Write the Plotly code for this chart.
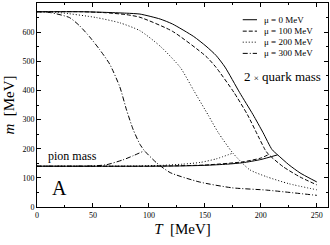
import plotly.graph_objects as go

# ---- data ----
T_q0 = [0, 40, 60, 80, 92, 110, 121, 140, 151, 160, 168, 181, 193, 202, 210, 215, 225, 235, 243, 250]
m_q0 = [670, 670, 668, 665, 662, 645, 628, 585, 552, 520, 480, 393, 317, 255, 197, 179, 145, 117, 100, 86]
T_p0 = [0, 100, 130, 150, 170, 184, 200, 215]
m_p0 = [140, 140, 141, 143, 147, 152, 163, 179]

T_q100 = [0, 40, 60, 80, 92, 121, 151, 160, 176, 188, 198, 204, 207, 220, 235, 250]
m_q100 = [670, 670, 667, 660, 651, 603, 517, 479, 393, 317, 240, 195, 180, 138, 103, 76]
T_p100 = [0, 100, 150, 184, 200, 207]
m_p100 = [140, 140, 144, 155, 168, 180]

T_q200 = [0, 20, 53, 74, 92, 110, 128, 140, 153, 162, 175, 190, 205, 225, 250]
m_q200 = [670, 667, 650, 632, 605, 552, 479, 400, 315, 255, 185, 128, 104, 80, 59]
T_p200 = [0, 90, 112, 130, 146, 160, 175]
m_p200 = [140, 141, 143, 147, 153, 165, 185]

T_q300 = [0, 12, 29, 38, 47, 56, 65, 74, 80, 86, 92, 96, 107, 119, 145, 174, 205, 250]
m_q300 = [670, 667, 650, 622, 584, 540, 490, 412, 333, 265, 215, 193, 151, 118, 86, 66, 58, 40]
T_p300 = [0, 50, 62, 77, 86, 96]
m_p300 = [140, 141, 145, 162, 176, 193]

series = [
    ("\u03bc = 0 MeV", T_q0, m_q0, T_p0, m_p0, "solid"),
    ("\u03bc = 100 MeV", T_q100, m_q100, T_p100, m_p100, "4px,2px"),
    ("\u03bc = 200 MeV", T_q200, m_q200, T_p200, m_p200, "1px,2px"),
    ("\u03bc = 300 MeV", T_q300, m_q300, T_p300, m_p300, "5px,2px,1px,2px"),
]

SERIF = "Liberation Serif, Times New Roman, serif"

fig = go.Figure()
for name, tq, mq, tp, mp, dash in series:
    for tx, my in ((tq, mq), (tp, mp)):
        fig.add_trace(go.Scatter(
            x=tx, y=my, mode="lines", name=name, showlegend=False,
            line=dict(color="black", width=1, dash=dash, shape="spline", smoothing=0.6),
            hoverinfo="skip"))

# manual legend (short samples like the original)
leg_y = [0.918, 0.862, 0.808, 0.753]
for (name, *_r, dash), yy in zip(series, leg_y):
    fig.add_shape(type="line", xref="paper", yref="paper", x0=0.707, x1=0.756, y0=yy, y1=yy,
                  line=dict(color="black", width=1, dash=dash))
    fig.add_annotation(xref="paper", yref="paper", x=0.772, y=yy, text=name, showarrow=False,
                       xanchor="left", yanchor="middle", font=dict(family=SERIF, size=9, color="black"))

fig.add_annotation(x=219, y=447, text="2 <span style='font-size:9px'>\u00d7</span> quark mass",
                   showarrow=False, font=dict(family=SERIF, size=13, color="black"))
fig.add_annotation(x=32, y=175, text="pion mass", showarrow=False,
                   font=dict(family=SERIF, size=12, color="black"))
fig.add_annotation(x=20, y=66, text="A", showarrow=False,
                   font=dict(family=SERIF, size=20, color="black"))

axis_common = dict(showgrid=False, zeroline=False, showline=True, linecolor="black", linewidth=1,
                   mirror="allticks", ticks="inside", ticklen=4, tickcolor="black", tickwidth=1,
                   tickfont=dict(family=SERIF, size=8, color="black"))

fig.update_xaxes(range=[0, 260], dtick=50, tick0=0,
                 minor=dict(dtick=25, ticks="inside", ticklen=2, tickcolor="black"),
                 title=dict(text="<i>T</i>  [MeV]", font=dict(family=SERIF, size=15, color="black"), standoff=4),
                 **axis_common)
fig.update_yaxes(range=[0, 700], dtick=100, tick0=0,
                 minor=dict(dtick=50, ticks="inside", ticklen=2, tickcolor="black"),
                 title=dict(text="<i>m</i>  [MeV]", font=dict(family=SERIF, size=15, color="black"), standoff=4),
                 **axis_common)

fig.update_layout(width=330, height=245, margin=dict(l=37, r=2, t=3, b=38),
                  plot_bgcolor="white", paper_bgcolor="white", showlegend=False)

fig.write_html("out.html", config={"displayModeBar": False},
               post_script="document.body.style.margin='0';document.body.style.overflow='hidden';")
